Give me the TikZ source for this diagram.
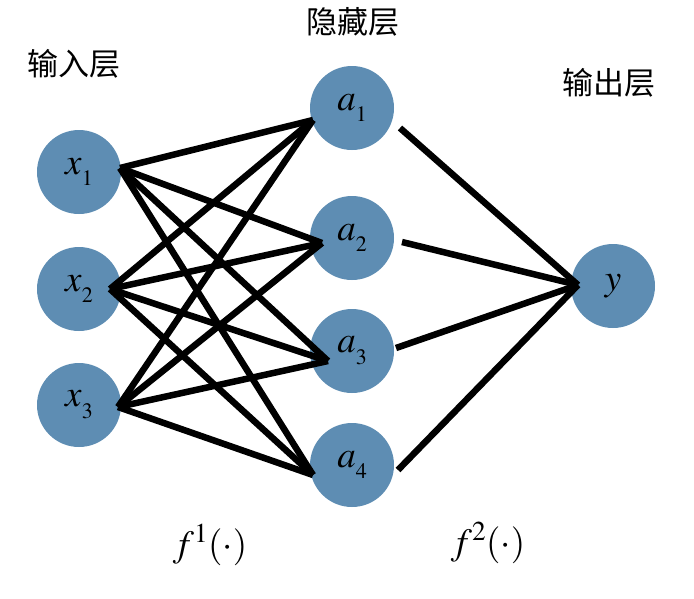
\documentclass[tikz,border=0pt]{standalone}
\usepackage{mathptmx}
\usepackage{fontspec}
\newfontfamily\cjk{Noto Sans CJK SC}
\definecolor{neuron}{RGB}{94,141,179}
\newcommand{\mysub}[1]{\raisebox{-0.32em}{\fontsize{22}{24}\selectfont$#1$}}
\begin{document}
\begin{tikzpicture}[x=1pt,y=-1pt,
  neu/.style={circle,fill=neuron,minimum size=84pt,inner sep=0pt,font=\fontsize{37}{40}\selectfont},
  lbl/.style={font=\cjk\fontsize{31}{36}\selectfont},
  fl/.style={font=\fontsize{37}{40}\selectfont},
  conn/.style={line width=6.5pt,black}]
\useasboundingbox (0,0) rectangle (694,598);
\node[neu] (x1) at (79,172) {$x$\mysub{1}};
\node[neu] (x2) at (79,289) {$x$\mysub{2}};
\node[neu] (x3) at (79,405) {$x$\mysub{3}};
\node[neu] (a1) at (352,108) {$a$\mysub{1}};
\node[neu] (a2) at (352,238) {$a$\mysub{2}};
\node[neu] (a3) at (352,351) {$a$\mysub{3}};
\node[neu] (a4) at (352,465) {$a$\mysub{4}};
\node[neu] (y) at (613,286) {$y$};
\node[lbl] (tin) at (74,64) {输入层};
\node[lbl] (thid) at (353,22) {隐藏层};
\node[lbl] (tout) at (609,83) {输出层};
\node[fl] (f1) at (210,545) {$f^1(\cdot)$};
\node[fl] (f2) at (488,543) {$f^2(\cdot)$};
\coordinate (x1o) at (120,168);
\coordinate (x2o) at (110,289);
\coordinate (x3o) at (118,407);
\coordinate (a1i) at (313,120);
\coordinate (a2i) at (322,243);
\coordinate (a3i) at (328,361);
\coordinate (a4i) at (313,475);
\coordinate (a1o) at (400,128);
\coordinate (a2o) at (402,242);
\coordinate (a3o) at (396,348);
\coordinate (a4o) at (398,470);
\coordinate (yi) at (578,285);
\foreach \s in {x1o,x2o,x3o}{
  \foreach \t in {a1i,a2i,a3i,a4i}{
    \draw[conn] (\s) -- (\t);
  }
}
\foreach \s in {a1o,a2o,a3o,a4o}{
  \draw[conn] (\s) -- (yi);
}
\end{tikzpicture}
\end{document}
